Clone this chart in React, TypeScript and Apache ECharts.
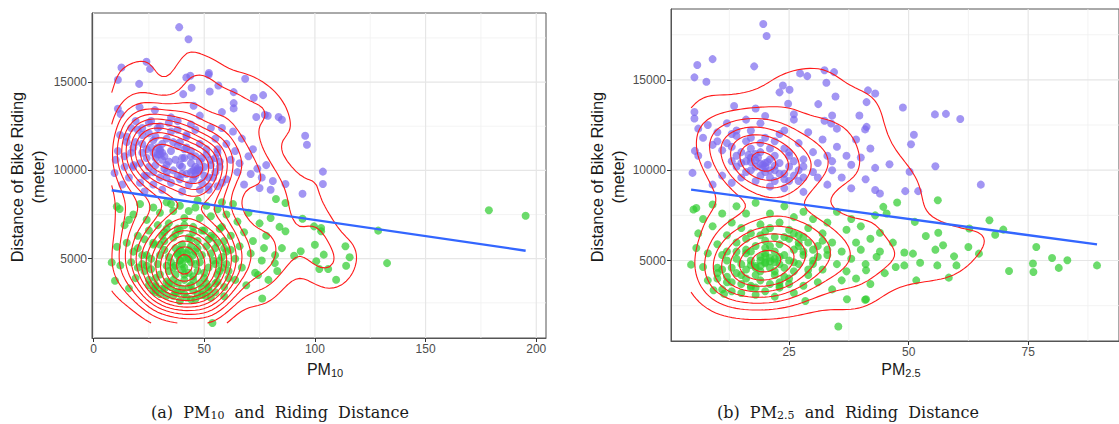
import React, { useEffect, useRef } from "react";
import * as echarts from "echarts";

// ---------- data: panel (a) PM10 ----------
const pm10Long: number[][] = [
  [38.7,18110],[42.9,17430],[23.9,16150],[25.5,15750],[12.6,15830],[11.0,15130],[20.6,14900],[41.9,15260],[43.7,15360],[52.1,15510],
  [52.0,15410],[56.4,14810],[44.3,14680],[40.5,14320],[52.5,14470],[63.3,14430],[68.5,15190],[72.4,14110],[76.6,14260],[63.3,13810],
  [45.2,13660],[63.3,13510],[20.8,13580],[11.0,13490],[12.2,13190],[27.7,13410],[73.5,13020],[77.4,13150],[78.7,13090],[83.6,13020],
  [85.1,12870],[95.6,11960],[96.4,11450],[103.6,9930],[103.6,9230],[94.4,8680],[86.7,9230],
  [30,10900],[26,11300],[34,10500],[22,11000],[38,11400],[28,10300],[33,11800],[19,11600],[36,10000],[25,12100],
  [31,11500],[40,10700],[21,10400],[29,12400],[35,11100],[17,11000],[27,9900],[42,11900],[24,10700],[32,10100],
  [15,11900],[38,12300],[20,12300],[30,11200],[44,10800],[23,9700],[34,12700],[18,10200],[27,11700],[40,9800],
  [14,10800],[33,9600],[26,12800],[37,10600],[22,11500],
  [29,10900],[31,11000],[28,10700],[32,10800],[30,11100],[27,11000],[31,10600],[29,11300],
  [18,11300],[22,12000],[25,10200],[28,11900],[33,10300],[36,11600],[39,10300],[42,11300],[49,10700],[52,9600],
  [55,10700],[24,11200],[35,12200],
  [47,10000],[44,10400],[50,9700],[42,9800],[53,10300],[46,10800],[49,9300],[40,10200],[55,9900],[45,9500],
  [51,10900],[43,9200],[57,10500],[48,10500],[52,9100],[41,10700],[54,9600],[46,9700],[58,9300],[44,11100],
  [50,10200],[39,9500],[56,11200],[48,8900],[53,10600],
  [45,10000],[47,10100],[46,9900],[44,9900],[48,10000],[46,10200],
  [12,12000],[15,11600],[11,11100],[10,10600],[9.5,9850],[13,9200],[14,10200],[17,12400],[18,10300],[16,9600],
  [19,12800],[22,12400],[25,12700],[21,9300],[24,9700],[27,9200],[30,9600],[33,9900],[35,9300],[38,9700],
  [39,11600],[41,11200],[42,12000],[44,12600],[46,12300],[48,11500],[51,11200],[53,12400],[55,11800],[56,11000],
  [57,10200],[58,12400],[60,11500],[60,9500],[62,10600],[63,12200],[64,11100],[65,9900],[66,10400],[67,11800],
  [68,9200],[70,10800],[71,9800],[72,11200],[74,10100],[75,9000],[76,9600],[78,10300],[80,8900],[81,9400],
  [38,12800],[35,13000],[30,12500],[56,9100],[52,8900],[40,8800],[31,8900],[23,8800],[48,13100],[58,13300],
];
const pm10Short: number[][] = [
  [8.2,4790],[12.1,4620],[9.7,3750],[16,3320],[10.6,5680],[10.5,7960],[11.8,7810],[53.7,1360],[76.2,2750],[59,2870],
  [50.6,2900],[74.3,4080],[81.9,4750],[85.1,5600],[90.6,5170],[93.6,5420],[100,5790],[100.6,4850],[102,4420],[106,4420],
  [104,5230],[109.6,3810],[114.1,4600],[115.7,5080],[113.8,5700],[94.4,7260],[99.6,6830],[102.8,6550],[102.8,6740],[128.6,6590],
  [132.6,4750],[178.6,7740],[195.2,7430],[86.7,8150],[82.4,8380],[86.7,6550],
  [42,5000],[38,5300],[46,4700],[35,4800],[49,5200],[40,4400],[44,5700],[32,5500],[52,4500],[37,4100],
  [47,6000],[29,4700],[55,5600],[41,3800],[36,6200],[50,3900],[27,5900],[57,4300],[33,3700],[45,6500],
  [53,6300],[30,4100],[39,6600],[58,5100],[26,4400],[48,3600],[43,4200],[34,5100],[51,5700],[38,3600],
  [56,3700],[31,6300],[46,5400],[24,5200],[40,5800],[60,4700],[28,3500],[44,3500],[36,4500],[54,4900],
  [22,4700],[47,4300],[33,6700],[59,6000],[25,3800],[41,6900],[52,3400],[35,3400],[62,5500],[23,6100],
  [39,4900],[45,4000],[30,5200],[49,6600],[37,5600],[57,6700],[43,6200],[27,3200],[61,3900],[20,5600],
  [41,5100],[43,5000],[39,4900],[42,5300],[40,4700],[44,4800],[38,5200],[41,4500],[43,5500],[45,5200],[37,4600],[40,5400],
  [26,5000],[30,5800],[34,4300],[37,6400],[41,4100],[44,6100],[47,5600],[50,4200],[53,5300],[56,4100],[59,5600],
  [28,3900],[32,6000],[36,3800],[39,5500],[45,3800],[48,4800],[52,6100],[55,4700],[33,4600],[58,4500],[24,4600],
  [32,3300],[36,2900],[41,3000],[45,3200],[49,3300],[53,2800],[28,3400],[39,2600],[46,2700],[34,3600],[43,3400],[51,3600],
  [33,2900],[38,3100],[44,2700],[47,3000],[40,3300],[55,3100],[30,3000],
  [14,6900],[15,5900],[17,4800],[18,7500],[19,3900],[20,6300],[21,8100],[22,5200],[23,4300],[24,7200],
  [25,3500],[25,6600],[27,7900],[27,5800],[28,3100],[29,6900],[30,7600],[31,3300],[32,6500],[33,8200],
  [34,7000],[36,7700],[37,3100],[38,6700],[39,8000],[41,7300],[42,2800],[43,7700],[45,6800],[46,7900],
  [48,7300],[49,2950],[50,6600],[51,8000],[52,3200],[53,7400],[54,6200],[55,3600],[56,7800],[56,5900],
  [57,4900],[58,6800],[59,3400],[60,5400],[60,7500],[61,4300],[62,6300],[63,8100],[64,3800],[64,5000],
  [65,7100],[66,5700],[67,4500],[68,6500],[69,3500],[70,7600],[71,5300],[72,6000],[73,4200],[75,7000],
  [76,4900],[77,5600],[78,6300],[79,3800],[80,7300],[82,5200],[83,4300],[84,6800],[58,8200],[47,8300],
  [35,8100],[18,5400],[16,7200],[20,4500],
];
const pm10Fit: number[][] = [[8.2, 8875], [195.2, 5450]];

// ---------- data: panel (b) PM2.5 ----------
const pm25Long: number[][] = [
  [19.6,18090],[20.3,17430],[9.0,16150],[5.8,15820],[5.2,15140],[7.7,14900],[17.7,15750],[27.3,15360],[28.8,15210],[32.4,15530],
  [34.4,15430],[32.8,14840],[34.7,14080],[23.7,14690],[25.1,14450],[23.0,14310],[24.8,13680],[31.1,13660],[41.5,14420],[43.0,14250],
  [41.2,13770],[48.8,13470],[55.5,13090],[57.8,13120],[60.8,12830],[51.1,11960],[50.5,11440],[46.0,10330],[50.2,9910],[52.0,8840],
  [49.3,8840],[44.0,8710],[43.0,10130],[55.6,10220],[65.1,9200],[39.7,13030],[41.2,12400],[40.9,12260],[34.0,13030],[33.8,12590],
  [32.4,12740],[13.5,13550],[18.0,13420],[5.2,13220],[5.2,12860],[4.8,9850],[5.3,11070],
  [19.5,10300],[17,10700],[22,10000],[15,11000],[24,9800],[18,10200],[21,10600],[13,11300],[26,9700],[20,9900],
  [16,10500],[23,10400],[14,10800],[19,11000],[25,10200],[12,11500],[21,9600],[17,11200],[27,10000],[22,10800],
  [15,10400],[24,9500],[18,10900],[11,11100],[20,10400],[26,10500],[16,11600],[23,9800],[13,10500],[28,9600],
  [19,9700],[21,11200],[14,11900],[25,9400],[17,10000],
  [19,10350],[20,10200],[18,10550],[21,10000],[17,10450],[22,10250],[19.5,10100],[18.5,10700],[20.5,10450],[16.5,10850],
  [10,11600],[13,12000],[16,9900],[19,11500],[22,9400],[25,11000],[28,10200],[31,9600],[14,10200],[24,12200],[34,10500],[17,11800],
  [6,12300],[7,11800],[8,12500],[9,11400],[10,12100],[11,9700],[12,12600],[13,9300],[14,12200],[15,9600],
  [16,12800],[17,12200],[18,9400],[19,12600],[20,11800],[21,9100],[22,11600],[23,12000],[24,11200],[25,10800],
  [26,12800],[27,11500],[27,9400],[28,10600],[29,12100],[30,9900],[30,11000],[31,10400],[32,11700],[33,9200],
  [33,10800],[34,10000],[35,11300],[36,9600],[37,10800],[38,10300],[38,9000],[39,11700],[40,10700],[41,9500],
  [42,11200],[43,8900],[28,8800],[24,9000],[8,10300],[6,10800],[9,9200],[26,13100],[35,12300],[20,13000],
];
const pm25Short: number[][] = [
  [4.5,4770],[5.6,7910],[5.0,7820],[5.6,5690],[7.0,4640],[9.2,3350],[11.4,3160],[35.3,1350],[41.1,2850],[37.1,2850],
  [28.4,2760],[76.7,5750],[76.0,4830],[76.1,4360],[80.0,5140],[81.4,4590],[83.2,5010],[89.4,4730],[71.0,4420],[66.9,7230],
  [68.1,6430],[69.8,6710],[64.7,5380],[62.5,5750],[62.7,6770],[58.4,4050],[59.5,5230],[60.0,4730],[56.0,4730],[55.6,5600],
  [57.2,5840],[56.2,6540],[56.1,8340],[53.6,6360],[51.6,3900],[52.4,4880],[47.6,8210],[44.7,7970],[45.4,7600],[51.3,7140],
  [50.9,5380],[49.1,4730],[47.3,4640],[46.7,5990],[49.1,5440],[43.3,5200],[44.0,6540],[41.1,4460],[40.9,2830],
  [20,4900],[18,4700],[22,5100],[16,4500],[24,5300],[19,5200],[21,4600],[14,4300],[26,5600],[17,5000],
  [23,4800],[19,4400],[25,5000],[15,4800],[22,5500],[12,4100],[27,5800],[20,5400],[18,4200],[24,4600],
  [13,4600],[28,5300],[21,5800],[16,4000],[23,5900],[17,5500],[26,4400],[11,4500],[29,6000],[19,3900],
  [22,4200],[14,5100],[25,6200],[10,4000],[30,5600],[18,5800],[15,3700],[27,4800],[20,6100],[12,5000],
  [23,3800],[28,6300],[16,5400],[21,3700],[31,5200],[13,3800],[26,6500],[24,4100],[17,3600],[29,4500],
  [20,4850],[19,5000],[21,5150],[18,4600],[22,4900],[20,5250],[19,4700],[21,4950],[17,4750],[23,5200],
  [10,4600],[12,3800],[14,5500],[16,6200],[18,3500],[20,5700],[22,4400],[24,6300],[26,4900],[28,5500],
  [30,4800],[32,6100],[15,4200],[19,6400],[23,3600],[27,6000],[11,5300],[33,5600],[25,4000],[21,6800],
  [6,6500],[7,7300],[8,5400],[8,3900],[9,6900],[9,8100],[10,5900],[10,4300],[11,7600],[11,3400],
  [12,6400],[12,5500],[13,7100],[13,3300],[14,8000],[14,6000],[15,3200],[15,6800],[16,7600],[16,5600],
  [17,3500],[17,6500],[18,8200],[18,3100],[19,7000],[20,6600],[20,3300],[21,7600],[22,3000],[22,6300],
  [23,7100],[23,3500],[24,8000],[25,6700],[25,3700],[26,7400],[26,3200],[27,6400],[28,3600],[28,7700],
  [29,4200],[29,6800],[30,5000],[30,7300],[31,3800],[31,5800],[32,6500],[32,4500],[33,7100],[33,5300],
  [34,3400],[34,6000],[35,4800],[35,7700],[36,5500],[36,3900],[37,6700],[37,4400],[38,5100],[38,7300],
  [39,6000],[39,4000],[40,5600],[40,6900],[41,4800],[42,6200],[42,3700],[43,7500],[44,5500],[45,4300],
];
const pm25Fit: number[][] = [[4.5, 8930], [89.4, 5890]];

// ---------- axes ----------
const pm10Ticks = [0, 50, 100, 150, 200];
const pm25Ticks = [25, 50, 75];
const yTicks = [5000, 10000, 15000];
const pm10Major = [0, 50, 100, 150, 200];
const pm10Minor = [25, 75, 125, 175];
const pm25Major = [25, 50, 75];
const pm25Minor = [12.5, 37.5, 62.5, 87.5];
const yMajor = [5000, 10000, 15000];
const yMinor = [2500, 7500, 12500, 17500];
const contourBins = [14.5, 8.5];

// ---------- 2D kernel density + marching squares ----------
function bandwidth(v: number[]): number {
  const n = v.length;
  const mean = v.reduce((a, b) => a + b, 0) / n;
  const sd = Math.sqrt(v.reduce((a, b) => a + (b - mean) * (b - mean), 0) / (n - 1));
  const s = [...v].sort((a, b) => a - b);
  const q = (p: number) => {
    const h = (n - 1) * p;
    const lo = Math.floor(h);
    return s[lo] + (h - lo) * (s[Math.min(lo + 1, n - 1)] - s[lo]);
  };
  const iqr = q(0.75) - q(0.25);
  return 1.06 * Math.min(sd, iqr / 1.34) * Math.pow(n, -0.2);
}

function marching(z: Float64Array[], gx: number[], gy: number[], L: number): number[][][] {
  const N = gx.length, M = gy.length;
  const pts = new Map<string, number[]>();
  const segs: string[][] = [];
  const adj = new Map<string, number[]>();
  const ip = (key: string, xa: number, ya: number, va: number, xb: number, yb: number, vb: number) => {
    if (!pts.has(key)) {
      const t = (L - va) / (vb - va);
      pts.set(key, [xa + t * (xb - xa), ya + t * (yb - ya)]);
    }
    return key;
  };
  const add = (a: string, b: string) => {
    const k = segs.length;
    segs.push([a, b]);
    if (!adj.has(a)) adj.set(a, []);
    if (!adj.has(b)) adj.set(b, []);
    adj.get(a)!.push(k);
    adj.get(b)!.push(k);
  };
  for (let i = 0; i < N - 1; i++) {
    for (let j = 0; j < M - 1; j++) {
      const v00 = z[i][j], v10 = z[i + 1][j], v11 = z[i + 1][j + 1], v01 = z[i][j + 1];
      const b00 = v00 >= L, b10 = v10 >= L, b11 = v11 >= L, b01 = v01 >= L;
      const e: Record<string, string> = {};
      if (b00 !== b10) e.B = ip(`h${i}_${j}`, gx[i], gy[j], v00, gx[i + 1], gy[j], v10);
      if (b01 !== b11) e.T = ip(`h${i}_${j + 1}`, gx[i], gy[j + 1], v01, gx[i + 1], gy[j + 1], v11);
      if (b00 !== b01) e.L = ip(`v${i}_${j}`, gx[i], gy[j], v00, gx[i], gy[j + 1], v01);
      if (b10 !== b11) e.R = ip(`v${i + 1}_${j}`, gx[i + 1], gy[j], v10, gx[i + 1], gy[j + 1], v11);
      const ks = Object.keys(e);
      if (ks.length === 2) add(e[ks[0]], e[ks[1]]);
      else if (ks.length === 4) {
        const c = (v00 + v10 + v11 + v01) / 4 >= L;
        if (b00) {
          if (c) { add(e.B, e.R); add(e.L, e.T); } else { add(e.L, e.B); add(e.T, e.R); }
        } else {
          if (c) { add(e.L, e.B); add(e.T, e.R); } else { add(e.B, e.R); add(e.L, e.T); }
        }
      }
    }
  }
  const used = new Uint8Array(segs.length);
  const out: number[][][] = [];
  const next = (cur: string) => {
    const c = (adj.get(cur) || []).find((k) => !used[k]);
    if (c === undefined) return null;
    used[c] = 1;
    return segs[c][0] === cur ? segs[c][1] : segs[c][0];
  };
  for (let s = 0; s < segs.length; s++) {
    if (used[s]) continue;
    used[s] = 1;
    const chain = [segs[s][0], segs[s][1]];
    let cur: string | null = segs[s][1];
    while ((cur = next(cur!)) !== null) chain.push(cur);
    cur = segs[s][0];
    while ((cur = next(cur!)) !== null) chain.unshift(cur);
    out.push(chain.map((k) => pts.get(k)!));
  }
  return out;
}

function densityContours(points: number[][], bins: number): number[][][] {
  const xs = points.map((p) => p[0]);
  const ys = points.map((p) => p[1]);
  const hx = bandwidth(xs), hy = bandwidth(ys);
  const N = 100;
  const x0 = Math.min(...xs), x1 = Math.max(...xs), y0 = Math.min(...ys), y1 = Math.max(...ys);
  const gx = Array.from({ length: N }, (_, i) => x0 + ((x1 - x0) * i) / (N - 1));
  const gy = Array.from({ length: N }, (_, i) => y0 + ((y1 - y0) * i) / (N - 1));
  const z = Array.from({ length: N }, () => new Float64Array(N));
  for (const p of points) {
    const ax = gx.map((g) => Math.exp(-0.5 * ((g - p[0]) / hx) ** 2));
    const ay = gy.map((g) => Math.exp(-0.5 * ((g - p[1]) / hy) ** 2));
    for (let i = 0; i < N; i++) {
      const a = ax[i];
      if (a < 1e-9) continue;
      const row = z[i];
      for (let j = 0; j < N; j++) row[j] += a * ay[j];
    }
  }
  let zmax = 0;
  for (const row of z) for (const v of row) if (v > zmax) zmax = v;
  const step = zmax / bins;
  const lines: number[][][] = [];
  for (let lev = step; lev < zmax; lev += step) lines.push(...marching(z, gx, gy, lev));
  return lines;
}

const FONT = '"Liberation Sans", Arial, sans-serif';

function gridSeries(idx: number, xMaj: number[], xMin: number[]) {
  const items: number[][] = [];
  xMin.forEach((v) => items.push([v, 0, 0]));
  yMinor.forEach((v) => items.push([v, 1, 0]));
  xMaj.forEach((v) => items.push([v, 0, 1]));
  yMajor.forEach((v) => items.push([v, 1, 1]));
  return {
    type: "custom",
    xAxisIndex: idx,
    yAxisIndex: idx,
    silent: true,
    z: 0,
    data: items,
    renderItem: (params: any, api: any) => {
      const cs = params.coordSys;
      const v = api.value(0), isY = api.value(1) === 1, major = api.value(2) === 1;
      let shape;
      if (isY) {
        const py = api.coord([0, v])[1];
        shape = { x1: cs.x, y1: py, x2: cs.x + cs.width, y2: py };
      } else {
        const px = api.coord([v, 10000])[0];
        shape = { x1: px, y1: cs.y, x2: px, y2: cs.y + cs.height };
      }
      return {
        type: "line",
        shape,
        style: { stroke: major ? "#E6E6E6" : "#F0F0F0", lineWidth: major ? 1.2 : 0.8 },
      };
    },
  };
}

function panelSeries(idx: number, longPts: number[][], shortPts: number[][], fit: number[][], bins: number, xMaj: number[], xMin: number[]) {
  const lines = densityContours([...longPts, ...shortPts], bins);
  return [
    gridSeries(idx, xMaj, xMin),
    {
      type: "scatter", xAxisIndex: idx, yAxisIndex: idx, data: longPts, symbolSize: 8,
      itemStyle: { color: "#7B68EE", opacity: 0.7 }, silent: true, z: 2,
    },
    {
      type: "scatter", xAxisIndex: idx, yAxisIndex: idx, data: shortPts, symbolSize: 8,
      itemStyle: { color: "#32CD32", opacity: 0.72 }, silent: true, z: 2,
    },
    {
      type: "custom", xAxisIndex: idx, yAxisIndex: idx, silent: true, z: 3,
      data: lines.map((l, i) => [l[0][0], l[0][1], i]),
      renderItem: (params: any, api: any) => {
        const line = lines[api.value(2)];
        return {
          type: "polyline",
          shape: { points: line.map((p) => api.coord(p)) },
          style: { stroke: "#FF1A1A", fill: "none", lineWidth: 1.1 },
        };
      },
    },
    {
      type: "line", xAxisIndex: idx, yAxisIndex: idx, data: fit, showSymbol: false, symbol: "none",
      lineStyle: { color: "#3366FF", width: 2.3 }, silent: true, z: 4,
    },
  ];
}

function axisCommon(ticks: number[]) {
  return {
    type: "value" as const,
    splitLine: { show: false },
    axisLine: { show: true, onZero: false, lineStyle: { color: "#555", width: 1 } },
    axisTick: { show: true, customValues: ticks, length: 4, lineStyle: { color: "#333" } },
    axisLabel: {
      customValues: ticks, fontSize: 12, color: "#4D4D4D", fontFamily: FONT, margin: 5,
      formatter: (v: number) => String(v),
    },
  };
}

export default function App() {
  const ref = useRef<HTMLDivElement>(null);
  useEffect(() => {
    if (!ref.current) return;
    const chart = echarts.init(ref.current, undefined, { renderer: "svg" });
    const subRich = (size: number, fam: string, pad: number) => ({
      m: { fontSize: size, fontFamily: fam, fill: "#1a1a1a", color: "#1a1a1a" },
      s: { fontSize: Math.round(size * 0.68), fontFamily: fam, fill: "#1a1a1a", color: "#1a1a1a", padding: [pad, 0, 0, 0] },
    });
    const yTitle = (x: number, y: number) => ({
      type: "text", x, y, rotation: Math.PI / 2, silent: true,
      style: {
        text: "Distance of Bike Riding\n(meter)", fontSize: 16.5, fontFamily: FONT, fill: "#1a1a1a",
        align: "center", verticalAlign: "middle", textAlign: "center", textVerticalAlign: "middle", lineHeight: 21,
      },
    });
    const rich = (x: number, y: number, text: string, size: number, fam: string, pad: number) => ({
      type: "text", x, y, silent: true,
      style: {
        text, rich: subRich(size, fam, pad),
        align: "center", verticalAlign: "middle", textAlign: "center", textVerticalAlign: "middle",
      },
    });
    const NB = "\u00a0\u00a0";
    chart.setOption({
      animation: false,
      backgroundColor: "#ffffff",
      grid: [
        { left: 92, top: 13, width: 454, height: 325, show: true, borderColor: "#555", borderWidth: 1, backgroundColor: "#fff" },
        { left: 671, top: 9, width: 452, height: 332, show: true, borderColor: "#555", borderWidth: 1, backgroundColor: "#fff" },
      ],
      xAxis: [
        { ...axisCommon(pm10Ticks), gridIndex: 0, min: -0.7, max: 204.4 },
        { ...axisCommon(pm25Ticks), gridIndex: 1, min: 0.3, max: 94.0 },
      ],
      yAxis: [
        { ...axisCommon(yTicks), gridIndex: 0, min: 509, max: 18912 },
        { ...axisCommon(yTicks), gridIndex: 1, min: 543, max: 18925 },
      ],
      series: [
        ...panelSeries(0, pm10Long, pm10Short, pm10Fit, contourBins[0], pm10Major, pm10Minor),
        ...panelSeries(1, pm25Long, pm25Short, pm25Fit, contourBins[1], pm25Major, pm25Minor),
      ],
      graphic: [
        yTitle(27, 177),
        yTitle(607, 177),
        rich(325, 369, "{m|PM}{s|10}", 16, FONT, 7),
        rich(901, 369, "{m|PM}{s|2.5}", 16, FONT, 7),
        rich(280, 412, `{m|(a)${NB}PM}{s|10}{m|${NB}and${NB}Riding${NB}Distance}`, 16, '"DejaVu Serif", serif', 7),
        rich(848, 412, `{m|(b)${NB}PM}{s|2.5}{m|${NB}and${NB}Riding${NB}Distance}`, 16, '"DejaVu Serif", serif', 7),
      ],
    });
    return () => chart.dispose();
  }, []);
  return <div ref={ref} style={{ position: "fixed", left: 0, top: 0, width: 1119, height: 424 }} />;
}
